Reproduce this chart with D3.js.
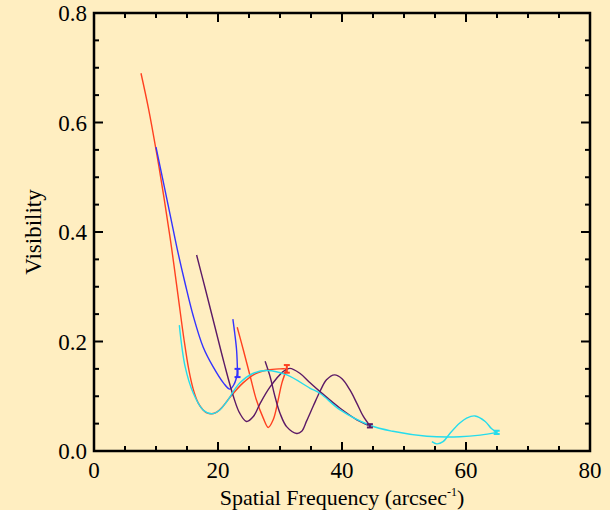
<!DOCTYPE html>
<html>
<head>
<meta charset="utf-8">
<script src="https://cdn.jsdelivr.net/npm/d3@7"></script>
<style>
  html, body { margin: 0; padding: 0; background: #FFEEC1; }
  svg { display: block; }
  text { font-family: "Liberation Serif", "Times New Roman", Times, serif; fill: #000; }
</style>
</head>
<body>
<svg id="chart" width="610" height="510"></svg>
<script>
// ---- data ----
const xTickLabels = [0, 20, 40, 60, 80];
const yTickLabels = [0.0, 0.2, 0.4, 0.6, 0.8];

const redAx = [7.58, 8.8, 10.1, 11.3, 12.5, 13.6, 14.5, 15.3, 16.0, 16.8, 17.6, 18.3, 19.0, 19.8, 20.6, 22.0, 24.0, 26.0, 28.0, 30.0, 31.1];
const redAy = [0.690, 0.625, 0.544, 0.462, 0.372, 0.280, 0.205, 0.148, 0.113, 0.088, 0.075, 0.069, 0.068, 0.071, 0.079, 0.099, 0.124, 0.141, 0.148, 0.150, 0.150];
const redBx = [23.1, 24.1, 25.2, 26.2, 27.3, 28.1, 28.9, 29.7, 30.3, 31.1];
const redBy = [0.226, 0.184, 0.136, 0.093, 0.060, 0.043, 0.057, 0.093, 0.124, 0.150];

const blueAx = [10.0, 11.2, 12.4, 13.4, 14.7, 16.0, 17.6, 19.2, 20.9, 21.9, 22.6, 23.15];
const blueAy = [0.555, 0.490, 0.425, 0.370, 0.306, 0.247, 0.190, 0.154, 0.124, 0.113, 0.122, 0.142];
const blueBx = [22.4, 22.7, 23.0, 23.15];
const blueBy = [0.241, 0.215, 0.184, 0.142];

const purpleAx = [16.55, 18.0, 19.5, 21.0, 22.5, 23.5, 24.6, 25.7, 26.8, 28.4, 30.5, 31.6, 33.2, 34.8, 36.5, 39.7, 42.4, 44.5];
const purpleAy = [0.358, 0.294, 0.227, 0.160, 0.099, 0.069, 0.054, 0.063, 0.087, 0.117, 0.145, 0.151, 0.142, 0.125, 0.108, 0.078, 0.057, 0.046];
const purpleBx = [27.6, 28.4, 29.2, 30.0, 31.1, 32.7, 33.5, 34.3, 35.4, 36.5, 37.5, 38.8, 40.0, 41.3, 42.4, 43.4, 44.5];
const purpleBy = [0.164, 0.136, 0.099, 0.069, 0.044, 0.032, 0.036, 0.055, 0.083, 0.110, 0.130, 0.139, 0.132, 0.111, 0.087, 0.064, 0.046];

const cyanAx = [13.76, 14.7, 16.0, 17.6, 19.0, 20.3, 21.4, 23.5, 25.7, 27.9, 31.1, 34.8, 36.5, 39.7, 44.5, 48.2, 53.7, 59.0, 62.3, 64.95];
const cyanAy = [0.230, 0.154, 0.106, 0.075, 0.068, 0.075, 0.090, 0.124, 0.142, 0.147, 0.139, 0.115, 0.105, 0.075, 0.047, 0.036, 0.027, 0.026, 0.029, 0.034];
const cyanBx = [54.5, 55.3, 56.3, 57.4, 59.0, 60.1, 61.45, 63.1, 64.1, 64.95];
const cyanBy = [0.017, 0.013, 0.017, 0.032, 0.051, 0.060, 0.064, 0.054, 0.041, 0.034];

// error bars: x, low, high
const errX    = [23.15, 31.1, 44.5, 64.95];
const errLow  = [0.135, 0.143, 0.043, 0.031];
const errHigh = [0.150, 0.157, 0.049, 0.037];
const errColorKey = ["blue", "red", "purple", "cyan"];

const colors = { red: "#ff4020", blue: "#3333ff", purple: "#5c1a66", cyan: "#26dcec" };

// ---- layout ----
const svg = d3.select("#chart");
const margin = { left: 94, top: 13, right: 20, bottom: 59 };
const W = 610, H = 510;
const x = d3.scaleLinear().domain([0, 80]).range([margin.left, W - margin.right]);
const y = d3.scaleLinear().domain([0, 0.8]).range([H - margin.bottom, margin.top]);

// series
const series = [
  ["red", redAx, redAy], ["red", redBx, redBy],
  ["blue", blueAx, blueAy], ["blue", blueBx, blueBy],
  ["purple", purpleAx, purpleAy], ["purple", purpleBx, purpleBy],
  ["cyan", cyanAx, cyanAy], ["cyan", cyanBx, cyanBy]
];
const line = d3.line().x(d => x(d[0])).y(d => y(d[1])).curve(d3.curveCatmullRom.alpha(0.5));
series.forEach(([c, xs, ys]) => {
  svg.append("path")
    .attr("d", line(xs.map((v, i) => [v, ys[i]])))
    .attr("fill", "none")
    .attr("stroke", colors[c])
    .attr("stroke-width", 1.4);
});

// error bars
errX.forEach((ex, i) => {
  const g = svg.append("g").attr("stroke", colors[errColorKey[i]]).attr("stroke-width", 2);
  g.append("line").attr("x1", x(ex)).attr("x2", x(ex)).attr("y1", y(errLow[i])).attr("y2", y(errHigh[i]));
  [errLow[i], errHigh[i]].forEach(v => {
    g.append("line").attr("x1", x(ex) - 3).attr("x2", x(ex) + 3).attr("y1", y(v)).attr("y2", y(v));
  });
});

// ticks (inward on all four sides)
const x0 = x.range()[0], x1 = x.range()[1], y0 = y.range()[0], y1 = y.range()[1];
const tickG = svg.append("g").attr("stroke", "#000").attr("stroke-width", 2);
x.ticks(16).forEach(v => {
  const major = Math.abs(v % 20) < 1e-9;
  const len = major ? 9 : 5;
  tickG.append("line").attr("x1", x(v)).attr("x2", x(v)).attr("y1", y0).attr("y2", y0 - len);
  tickG.append("line").attr("x1", x(v)).attr("x2", x(v)).attr("y1", y1).attr("y2", y1 + len);
});
y.ticks(16).forEach(v => {
  const major = Math.abs(Math.round(v * 100) % 20) < 1e-9;
  const len = major ? 9 : 5;
  tickG.append("line").attr("y1", y(v)).attr("y2", y(v)).attr("x1", x0).attr("x2", x0 + len);
  tickG.append("line").attr("y1", y(v)).attr("y2", y(v)).attr("x1", x1).attr("x2", x1 - len);
});

// frame
svg.append("rect")
  .attr("x", x0).attr("y", y1).attr("width", x1 - x0).attr("height", y0 - y1)
  .attr("fill", "none").attr("stroke", "#000").attr("stroke-width", 2.5);

// tick labels
svg.append("g").selectAll("text").data(xTickLabels).join("text")
  .attr("x", d => x(d)).attr("y", y0 + 27)
  .attr("text-anchor", "middle").attr("font-size", 23)
  .text(d => d);
svg.append("g").selectAll("text").data(yTickLabels).join("text")
  .attr("x", x0 - 7).attr("y", d => y(d) + 8)
  .attr("text-anchor", "end").attr("font-size", 23)
  .text(d => d3.format(".1f")(d));

// axis titles
const xt = svg.append("text")
  .attr("x", (x0 + x1) / 2).attr("y", 505)
  .attr("text-anchor", "middle").attr("font-size", 22);
xt.append("tspan").text("Spatial Frequency (arcsec");
xt.append("tspan").attr("font-size", 12).attr("dy", -9).text("-1");
xt.append("tspan").attr("dy", 9).text(")");

svg.append("text")
  .attr("transform", `translate(41,${(y0 + y1) / 2}) rotate(-90)`)
  .attr("text-anchor", "middle").attr("font-size", 23)
  .text("Visibility");
</script>
</body>
</html>
